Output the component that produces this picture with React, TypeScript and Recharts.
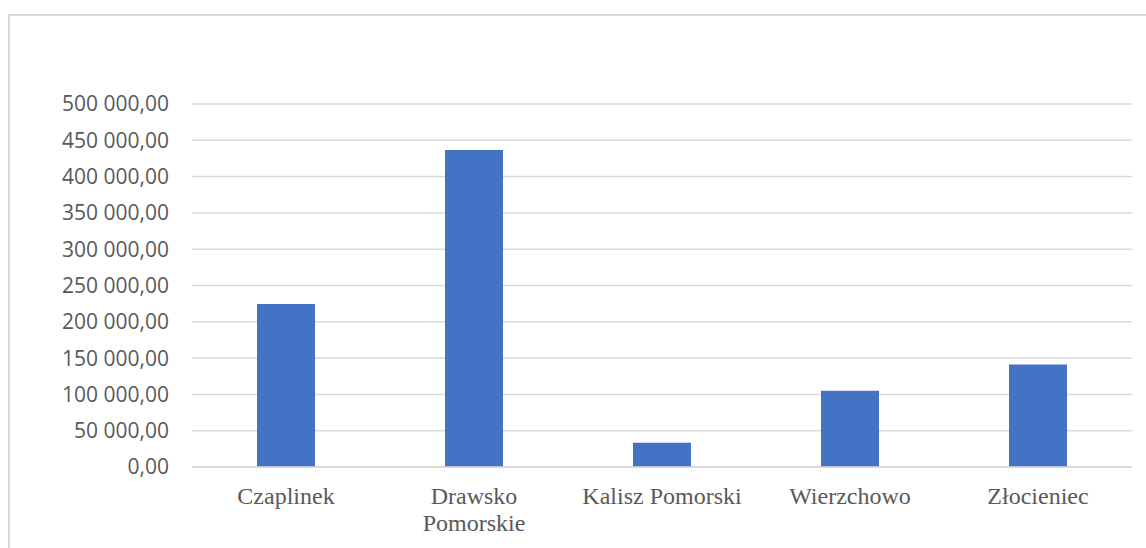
import React from "react";
import { BarChart, Bar, XAxis, YAxis, CartesianGrid } from "recharts";

const categories: string[] = ["Czaplinek", "Drawsko Pomorskie", "Kalisz Pomorski", "Wierzchowo", "Złocieniec"];
const values: number[] = [224500, 436600, 33400, 105100, 141200];
const yTicks: number[] = [0, 50000, 100000, 150000, 200000, 250000, 300000, 350000, 400000, 450000, 500000];

const data = categories.map((name, i) => ({ name, value: values[i] }));

function formatPL(v: number): string {
  const intPart = Math.round(v).toString();
  const grouped = intPart.replace(/\B(?=(\d{3})+(?!\d))/g, " ");
  return grouped + ",00";
}

const X_FONT_SIZE = 24;
const X_FONT_FAMILY = "'Liberation Serif', 'Times New Roman', serif";

let ctx: CanvasRenderingContext2D | null = null;
function measure(s: string): number {
  if (!ctx) {
    const c = document.createElement("canvas");
    ctx = c.getContext("2d");
  }
  if (!ctx) return s.length * X_FONT_SIZE * 0.47;
  ctx.font = `${X_FONT_SIZE}px ${X_FONT_FAMILY}`;
  return ctx.measureText(s).width;
}

function wrap(label: string, maxWidth: number): string[] {
  const words = label.split(" ");
  const lines: string[] = [];
  let cur = "";
  for (const w of words) {
    const cand = cur ? cur + " " + w : w;
    if (cur && measure(cand) > maxWidth) {
      lines.push(cur);
      cur = w;
    } else {
      cur = cand;
    }
  }
  if (cur) lines.push(cur);
  return lines;
}

const XTick = (props: any) => {
  const { x, y, payload } = props;
  const lines = wrap(String(payload.value), 185);
  return (
    <text
      x={x}
      y={y + 37}
      textAnchor="middle"
      fontSize={X_FONT_SIZE}
      fontFamily={X_FONT_FAMILY}
      fill="#595959"
    >
      {lines.map((l, i) => (
        <tspan key={i} x={x} dy={i === 0 ? 0 : 27}>
          {l}
        </tspan>
      ))}
    </text>
  );
};

export default function App() {
  return (
    <div
      style={{
        position: "fixed",
        left: 8,
        top: 14,
        width: 1136,
        height: 534,
        borderTop: "2px solid #d9d9d9",
        borderLeft: "2px solid #d9d9d9",
        background: "#fff",
      }}
    >
      <BarChart
        width={1136}
        height={532}
        data={data}
        margin={{ top: 88, right: 14, left: 0, bottom: 0 }}
        barSize={58}
      >
        <CartesianGrid vertical={false} stroke="#d9d9d9" strokeWidth={1.5} />
        <XAxis
          dataKey="name"
          axisLine={{ stroke: "#d9d9d9", strokeWidth: 1.5 }}
          tickLine={false}
          tickSize={0}
          tickMargin={0}
          height={81}
          interval={0}
          tick={<XTick />}
        />
        <YAxis
          width={182}
          domain={[0, 500000]}
          ticks={yTicks}
          interval={0}
          axisLine={false}
          tickLine={false}
          tickSize={0}
          tickMargin={23}
          tickFormatter={formatPL}
          tick={{ fill: "#595959", fontSize: 21, fontFamily: "'Open Sans', sans-serif" }}
        />
        <Bar dataKey="value" fill="#4472c4" isAnimationActive={false} />
      </BarChart>
    </div>
  );
}
